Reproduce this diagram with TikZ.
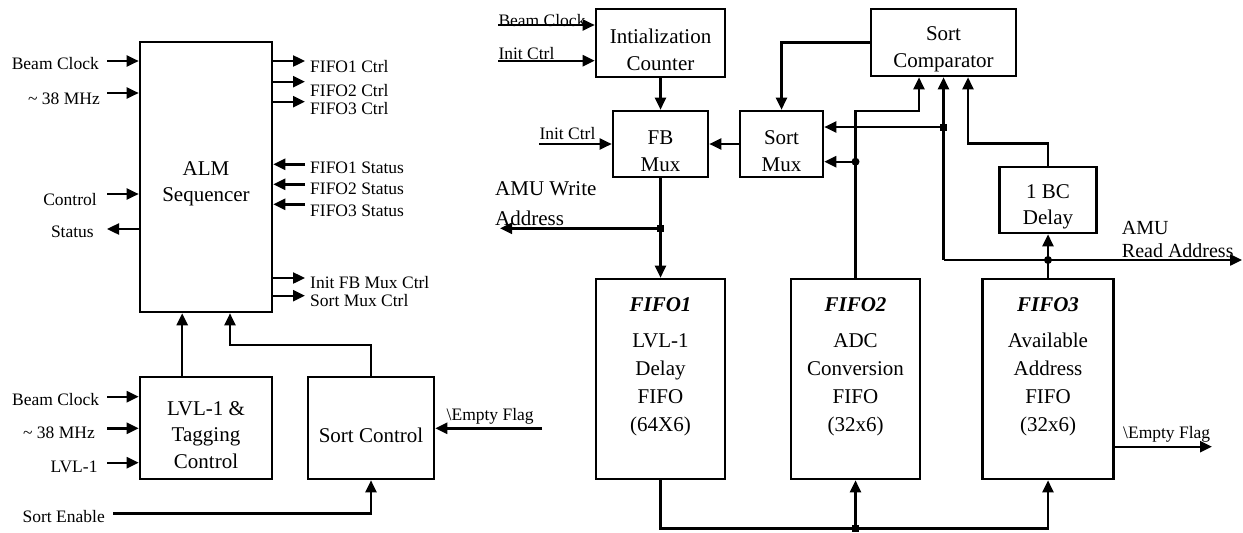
\documentclass[tikz,border=0pt]{standalone}
\usepackage{fontspec}
\setmainfont{Liberation Serif}
\usetikzlibrary{arrows.meta,calc,positioning}
\newcommand\lblsize{\fontsize{17.5}{20}\selectfont}
\newcommand\blksize{\fontsize{21}{26.5}\selectfont}
\tikzset{
  blk/.style={draw,line width=2.6pt,inner sep=0pt},
  blktxt/.style={anchor=center,yshift=-7pt,inner sep=0pt,align=center,font=\blksize},
  fifotxt/.style={anchor=north,yshift=-20pt,inner sep=0pt,align=center,font=\fontsize{21}{28}\selectfont},
  lbl/.style={inner sep=0pt,font=\lblsize},
  sig/.style={line width=2.4pt,-{Triangle[length=12pt,width=11pt]}},
  wire/.style={line width=2.4pt},
}
\begin{document}
\begin{tikzpicture}[x=1pt,y=-1pt]
\useasboundingbox (0,0) rectangle (1243,533);
% left half: sequencer and its control blocks
\node[blk,minimum width=132pt,minimum height=270pt,label={[blktxt]center:{ALM\\Sequencer}}] (alm) at (206,177) {};
\node[blk,minimum width=132pt,minimum height=102pt,label={[blktxt]center:{LVL-1 \&\\Tagging\\Control}}] (lvl) at (206,428) {};
\node[blk,minimum width=126pt,minimum height=102pt,label={[blktxt]center:{Sort Control}}] (sortctl) at (371,428) {};
% right half: address path
\node[blk,minimum width=129pt,minimum height=68pt,label={[blktxt]center:{Intialization\\Counter}}] (initcnt) at (660.5,43) {};
\node[blk,minimum width=95pt,minimum height=66pt,label={[blktxt]center:{FB\\Mux}}] (fbmux) at (660.5,144) {};
\node[blk,minimum width=83pt,minimum height=66pt,label={[blktxt]center:{Sort\\Mux}}] (sortmux) at (781.5,144) {};
\node[blk,minimum width=145pt,minimum height=67pt,label={[blktxt]center:{Sort\\Comparator}}] (sortcmp) at (943.5,42.5) {};
\node[blk,minimum width=97pt,minimum height=66pt,label={[blktxt]center:{1 BC\\Delay}}] (bcdelay) at (1048,200) {};
\node[blk,minimum width=129pt,minimum height=200pt,label={[fifotxt]north:{\textbf{\textit{FIFO1}}\\[8pt]LVL-1\\Delay\\FIFO\\(64X6)}}] (fifo1) at (660.5,379) {};
\node[blk,minimum width=129pt,minimum height=200pt,label={[fifotxt]north:{\textbf{\textit{FIFO2}}\\[8pt]ADC\\Conversion\\FIFO\\(32x6)}}] (fifo2) at (855.5,379) {};
\node[blk,minimum width=131pt,minimum height=200pt,label={[fifotxt]north:{\textbf{\textit{FIFO3}}\\[8pt]Available\\Address\\FIFO\\(32x6)}}] (fifo3) at (1048,379) {};

% sequencer inputs and outputs
\foreach \y/\ly/\lx/\t [count=\i] in {61/64/99/Beam Clock, 93/99/100/\textasciitilde{} 38 MHz, 194/200/97/Control} {
  \coordinate (ai\i) at (107,\y);
  \node[lbl,anchor=east] (ail\i) at (\lx,\ly) {\t};
  \draw[sig] (ai\i) -- (ai\i -| alm.west);
}
\coordinate (ao) at (107,229);
\node[lbl,anchor=east] (aol) at (94,232) {Status};
\draw[sig] (ao -| alm.west) -- (ao);
\foreach \y/\ly/\t [count=\i] in {61/66.7/FIFO1 Ctrl, 81.7/90.7/FIFO2 Ctrl, 101.7/109/FIFO3 Ctrl, 278/282.7/Init FB Mux Ctrl, 295.7/300.7/Sort Mux Ctrl} {
  \coordinate (ac\i) at (305,\y);
  \node[lbl,anchor=west] (acl\i) at (310,\ly) {\t};
  \draw[sig] (ac\i -| alm.east) -- (ac\i);
}
\foreach \y/\ly/\t [count=\i] in {164.3/167.7/FIFO1 Status, 184.3/189/FIFO2 Status, 204.3/211/FIFO3 Status} {
  \coordinate (as\i) at (305,\y);
  \node[lbl,anchor=west] (asl\i) at (310,\ly) {\t};
  \draw[sig] (as\i) -- (as\i -| alm.east);
}

% LVL-1 and sort control
\foreach \y/\ly/\lx/\t [count=\i] in {396.7/400/99.3/Beam Clock, 428.3/433/95/\textasciitilde{} 38 MHz, 462.7/466.7/97.7/LVL-1} {
  \coordinate (li\i) at (107.3,\y);
  \node[lbl,anchor=east] (lil\i) at (\lx,\ly) {\t};
  \draw[sig] (li\i) -- (li\i -| lvl.west);
}
\coordinate (lvlup) at ($(lvl.north west)!0.323!(lvl.north east)$);
\draw[sig] (lvlup) -- (lvlup |- alm.south);
\coordinate (scbend) at (230,345);
\draw[sig] (sortctl.north) |- (scbend) -- (scbend |- alm.south);
\coordinate (se) at (113,513.3);
\node[lbl,anchor=east] (sel) at (105,517) {Sort Enable};
\draw[sig] (se) -| (sortctl.south);
\coordinate (ef1) at (542,428.3);
\node[lbl,anchor=west] (ef1l) at (446.5,416.7) {\textbackslash Empty Flag};
\draw[sig] (ef1) -- (ef1 -| sortctl.east);

% counter and muxes
\coordinate (bc) at (498.3,25);
\node[lbl,anchor=base west] (bcl) at (498.3,26.5) {Beam Clock};
\draw[sig] (bc) -- (bc -| initcnt.west);
\coordinate (ic1) at (498.3,60.7);
\node[lbl,anchor=base west] (ic1l) at (498.3,59.5) {Init Ctrl};
\draw[sig] (ic1) -- (ic1 -| initcnt.west);
\coordinate (ic2) at (539.3,144);
\node[lbl,anchor=base west] (ic2l) at (539.3,139.5) {Init Ctrl};
\draw[sig] (ic2) -- (ic2 -| fbmux.west);
\draw[sig] (initcnt.south) -- (fbmux.north);
\draw[sig] (sortmux) -- (fbmux);
\draw[sig] (sortcmp.west) -| (sortmux.north);
\draw[sig] (fbmux.south) -- (fifo1.north);
\coordinate (wj) at (660.5,228.3);
\coordinate (amuw) at (500,228.3);
\draw[sig] (wj) -- (amuw);
\fill (wj) +(-3.5,-3.5) rectangle +(3.5,3.5);
\node[lbl,anchor=north west,align=left,font=\fontsize{21}{30}\selectfont] (amuwl) at (495,181) {AMU Write\\Address};

% comparator inputs
\coordinate (c2) at (919,111);
\draw[sig] (fifo2.north) |- (c2) -- (c2 |- sortcmp.south);
\coordinate (mj) at (855.5,161.7);
\draw[sig] (mj) -- (mj -| sortmux.east);
\fill (mj) circle[radius=4];
\coordinate (rj) at (943.5,260);
\draw[sig] (rj) -- (sortcmp.south);
\coordinate (cj) at (943.5,127);
\draw[sig] (cj) -- (cj -| sortmux.east);
\fill (cj) +(-3.5,-3.5) rectangle +(3.5,3.5);
\coordinate (dbend) at (968,143.3);
\draw[sig] (bcdelay.north) |- (dbend) -- (dbend |- sortcmp.south);
\coordinate (amur) at (1242,260);
\draw[sig] (rj) -- (amur);
\draw[sig] (fifo3.north) -- (bcdelay.south);
\fill (fifo3.north |- rj) circle[radius=4];
\node[lbl,anchor=north west,align=left,font=\fontsize{20}{23}\selectfont] (amurl) at (1121.7,221.5) {AMU\\Read Address};

% FIFO3 flag and bottom bus
\coordinate (ef3) at (1212,446.7);
\node[lbl,anchor=west] (ef3l) at (1123,434) {\textbackslash Empty Flag};
\draw[sig] (ef3 -| fifo3.east) -- (ef3);
\coordinate (bus) at (855.5,528.5);
\draw[sig] (fifo1.south) |- (fifo3.south |- bus) -- (fifo3.south);
\draw[sig] (bus) -- (fifo2.south);
\fill (bus) +(-3.5,-3.5) rectangle +(3.5,3.5);
\end{tikzpicture}
\end{document}
